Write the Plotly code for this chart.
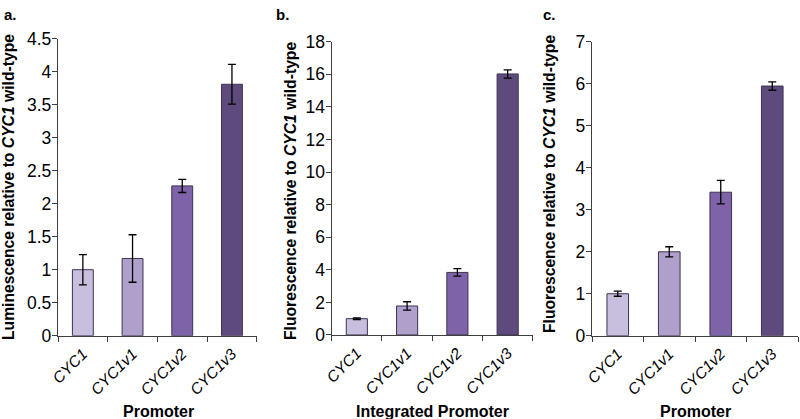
import plotly.graph_objects as go

categories = ["CYC1", "CYC1v1", "CYC1v2", "CYC1v3"]
tick_labels = ["<i>CYC1</i>", "<i>CYC1v1</i>", "<i>CYC1v2</i>", "<i>CYC1v3</i>"]

lum_values = [1.00, 1.17, 2.27, 3.81]
lum_errors = [0.23, 0.36, 0.10, 0.30]

int_fluor_values = [1.00, 1.78, 3.84, 16.02]
int_fluor_errors = [0.05, 0.26, 0.23, 0.25]

fluor_values = [1.00, 2.00, 3.42, 5.95]
fluor_errors = [0.06, 0.12, 0.28, 0.10]

bar_colors = ["#c7bfdd", "#ae9fcb", "#7f63a8", "#5f4a7e"]

FONT = "Liberation Sans, Arial, sans-serif"
AXIS_COLOR = "#3f3f3f"

fig = go.Figure()

panels = [
    ("x", "y", lum_values, lum_errors),
    ("x2", "y2", int_fluor_values, int_fluor_errors),
    ("x3", "y3", fluor_values, fluor_errors),
]
for xa, ya, vals, errs in panels:
    fig.add_trace(go.Bar(
        x=categories, y=vals, xaxis=xa, yaxis=ya,
        marker=dict(color=bar_colors, line=dict(color="#3d3450", width=1)),
        width=0.42,
        error_y=dict(type="data", array=errs, visible=True, color="black",
                     thickness=1.3, width=4),
        showlegend=False,
    ))

x_domains = [[0.0725, 0.321], [0.4146, 0.666], [0.740, 0.9975]]
y_domains = [[0.1988, 0.9076], [0.2005, 0.9005], [0.1988, 0.8998]]
y_ranges = [[0, 4.5], [0, 18], [0, 7]]
y_dticks = [0.5, 2, 1]

layout = dict(
    width=800, height=419,
    margin=dict(l=0, r=0, t=0, b=0),
    paper_bgcolor="white", plot_bgcolor="white",
    font=dict(family=FONT, color="black"),
)
for i in range(3):
    s = "" if i == 0 else str(i + 1)
    layout["xaxis" + s] = dict(
        domain=x_domains[i], anchor="y" + s, automargin=False,
        type="category", tickmode="array", tickvals=categories, ticktext=tick_labels,
        tickangle=-45, tickfont=dict(size=15.5, family=FONT, color="black"),
        ticklabelstandoff=2,
        showline=True, linecolor=AXIS_COLOR, linewidth=1.3,
        ticks="outside", ticklen=5, tickcolor=AXIS_COLOR, tickson="boundaries",
        showgrid=False, zeroline=False, range=[-0.5, 3.5],
    )
    layout["yaxis" + s] = dict(
        domain=y_domains[i], anchor="x" + s, automargin=False,
        range=y_ranges[i], dtick=y_dticks[i], tick0=0,
        tickfont=dict(size=17.5, family=FONT, color="black"),
        ticklabelstandoff=-3,
        showline=True, linecolor=AXIS_COLOR, linewidth=1.3,
        ticks="outside", ticklen=5, tickcolor=AXIS_COLOR,
        showgrid=False, zeroline=False,
    )
fig.update_layout(**layout)

annotations = [
    dict(text="<b>a.</b>", x=10, y=15, size=15),
    dict(text="<b>b.</b>", x=282, y=15, size=15),
    dict(text="<b>c.</b>", x=549, y=15, size=15),
    dict(text="<b>Promoter</b>", x=158, y=411, size=16),
    dict(text="<b>Integrated Promoter</b>", x=432, y=411, size=16),
    dict(text="<b>Promoter</b>", x=695, y=411, size=16),
]
for a in annotations:
    fig.add_annotation(
        text=a["text"], xref="paper", yref="paper",
        x=a["x"] / 800, y=1 - a["y"] / 419, xanchor="center", yanchor="middle",
        showarrow=False, font=dict(size=a["size"], family=FONT, color="black"),
    )

ytitles = [
    ("<b>Luminescence relative to <i>CYC1</i> wild-type</b>", 8, 187),
    ("<b>Fluorescence relative to <i>CYC1</i> wild-type</b>", 290, 191),
    ("<b>Fluorescence relative to <i>CYC1</i> wild-type</b>", 549, 184),
]
for text, x, y in ytitles:
    fig.add_annotation(
        text=text, xref="paper", yref="paper",
        x=x / 800, y=1 - y / 419, xanchor="center", yanchor="middle",
        textangle=-90, showarrow=False,
        font=dict(size=15.7, family=FONT, color="black"),
    )

fig.write_html(
    "out.html",
    config={"displayModeBar": False},
    post_script="document.body.style.margin='0';document.body.style.padding='0';document.body.style.overflow='hidden';",
)
